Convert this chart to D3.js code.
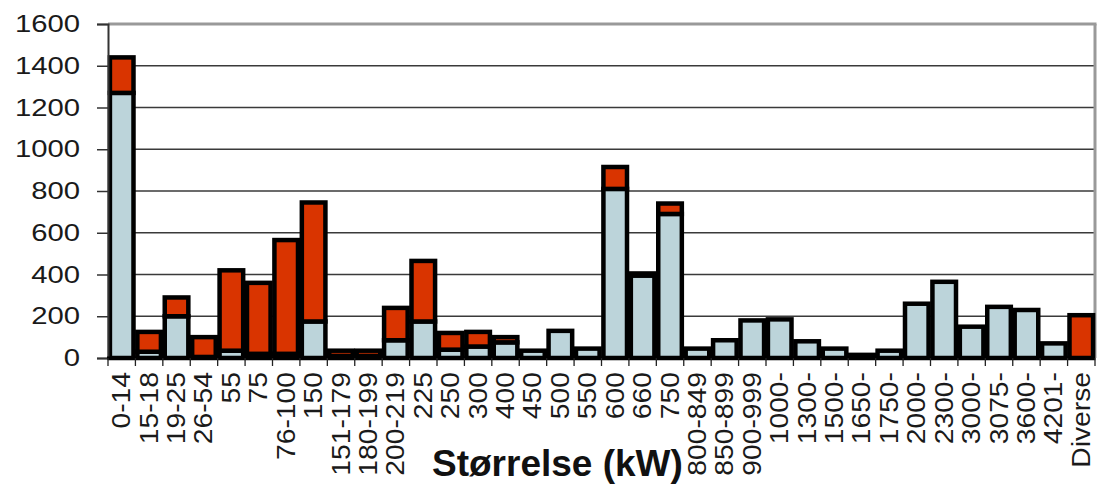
<!DOCTYPE html>
<html><head><meta charset="utf-8">
<script src="https://cdn.jsdelivr.net/npm/d3@7"></script>
<style>
html,body{margin:0;padding:0;background:#fff;}
svg{display:block;font-family:"Liberation Sans",Arial,sans-serif;}
</style></head>
<body><svg id="c" width="1097" height="486"></svg>
<script>
const categories = ["0-14","15-18","19-25","26-54","55","75","76-100","150","151-179","180-199","200-219","225","250","300","400","450","500","550","600","660","750","800-849","850-899","900-999","1000-","1300-","1500-","1650-","1750-","2000-","2300-","3000-","3075-","3600-","4201-","Diverse"];
const blueValues = [1270,30,200,5,35,20,20,175,10,10,85,175,40,55,75,35,130,45,810,395,690,45,85,180,185,80,45,15,35,260,365,150,245,230,70,0];
const redValues  = [170,95,90,95,385,340,545,570,25,25,155,290,80,70,25,0,0,0,105,10,50,0,0,0,0,0,0,0,0,0,0,0,0,0,0,205];
const yTicks = [0,200,400,600,800,1000,1200,1400,1600];
const xTitle = "Størrelse (kW)";

const svg = d3.select("#c");
const L = 108, R = 1095, T = 24, B = 358;
const x = d3.scaleBand().domain(categories).range([L, R]).paddingInner(0.14).paddingOuter(0.07);
const xb = d3.scaleBand().domain(categories).range([L, R]);
const y = d3.scaleLinear().domain([0, 1600]).range([B, T]);

function stretch(sel, f){
  sel.each(function(){
    const l = this.getComputedTextLength();
    this.setAttribute("textLength", l * f);
    this.setAttribute("lengthAdjust", "spacingAndGlyphs");
  });
}

// gridlines
svg.append("g").selectAll("line").data(yTicks.filter(d => d > 0 && d < 1600)).join("line")
  .attr("x1", L).attr("x2", R).attr("y1", d => y(d)).attr("y2", d => y(d))
  .attr("stroke", "#3a3a3a").attr("stroke-width", 1.5);
// top & right border
svg.append("line").attr("x1", L).attr("x2", R + 1.5).attr("y1", y(1600)).attr("y2", y(1600))
  .attr("stroke", "#999").attr("stroke-width", 3);
svg.append("line").attr("x1", R).attr("x2", R).attr("y1", y(1600)).attr("y2", B)
  .attr("stroke", "#999").attr("stroke-width", 3);

// bars
const stack = categories.map((c, i) => ({c, b: blueValues[i], r: redValues[i]}));
const g = svg.append("g");
stack.forEach(d => {
  if (d.b > 0) g.append("rect").attr("x", x(d.c)).attr("width", x.bandwidth())
    .attr("y", y(d.b)).attr("height", y(0) - y(d.b))
    .attr("fill", "#bcd4da").attr("stroke", "#000").attr("stroke-width", 4.5);
  if (d.r > 0) g.append("rect").attr("x", x(d.c)).attr("width", x.bandwidth())
    .attr("y", y(d.b + d.r)).attr("height", y(d.b) - y(d.b + d.r))
    .attr("fill", "#d93400").attr("stroke", "#000").attr("stroke-width", 4.5);
});

// y axis
const ya = svg.append("g").attr("transform", `translate(${L},0)`)
  .call(d3.axisLeft(y).tickValues(yTicks).tickSize(11).tickPadding(17).tickFormat(d3.format("d")));
ya.select(".domain").attr("stroke", "#333").attr("stroke-width", 2);
ya.selectAll(".tick line").attr("stroke", "#333").attr("stroke-width", 1.5);
ya.selectAll("text").attr("font-size", 24).attr("fill", "#1a1a1a")
  .attr("font-family", "Liberation Sans, Arial, sans-serif");
stretch(ya.selectAll("text"), 1.22);

// x axis
const xa = svg.append("g").attr("transform", `translate(0,${B})`)
  .call(d3.axisBottom(xb).tickSize(0).tickFormat(""));
xa.select(".domain").remove();
svg.append("line").attr("x1", L - 1).attr("x2", R).attr("y1", B).attr("y2", B)
  .attr("stroke", "#000").attr("stroke-width", 3);
svg.append("g").selectAll("line").data(categories.concat(["__end"])).join("line")
  .attr("x1", (d, i) => L + i * xb.step()).attr("x2", (d, i) => L + i * xb.step())
  .attr("y1", B).attr("y2", B + 8).attr("stroke", "#222").attr("stroke-width", 1.3);
const xl = svg.append("g").selectAll("text").data(categories).join("text")
  .attr("transform", d => `translate(${xb(d) + xb.bandwidth() / 2},${372}) rotate(-90)`)
  .attr("text-anchor", "end").attr("dy", "0.34em")
  .attr("font-size", 25).attr("fill", "#1a1a1a").text(d => d);
stretch(xl, 1.13);

svg.append("text").attr("x", 432).attr("y", 476).attr("font-size", 37).attr("font-weight", "bold")
  .attr("fill", "#111").text(xTitle);
</script></body></html>
